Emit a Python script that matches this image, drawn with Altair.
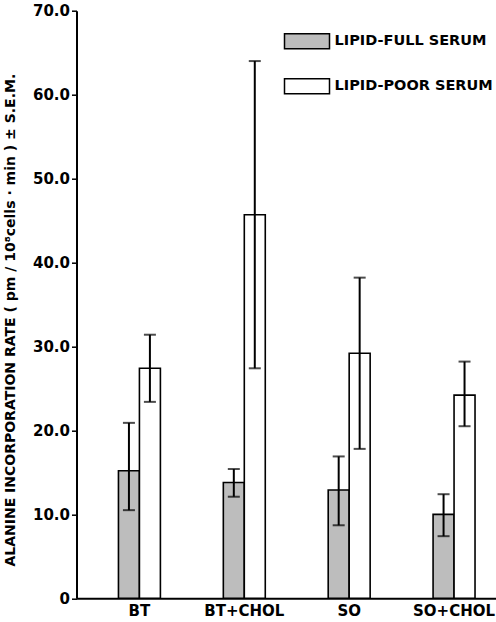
import altair as alt
import pandas as pd

categories = ["BT", "BT+CHOL", "SO", "SO+CHOL"]
series = ["LIPID-FULL SERUM", "LIPID-POOR SERUM"]
full_mean = [15.2, 13.8, 12.9, 10.0]
full_low = [10.5, 12.1, 8.7, 7.4]
full_high = [20.9, 15.4, 16.9, 12.4]
poor_mean = [27.4, 45.7, 29.2, 24.2]
poor_low = [23.4, 27.4, 17.8, 20.5]
poor_high = [31.4, 64.0, 38.2, 28.2]

rows = []
for i, c in enumerate(categories):
    rows.append({"cat": c, "serum": series[0], "rate": full_mean[i], "lo": full_low[i], "hi": full_high[i]})
    rows.append({"cat": c, "serum": series[1], "rate": poor_mean[i], "lo": poor_low[i], "hi": poor_high[i]})
df = pd.DataFrame(rows)

FONT = "DejaVu Sans"

x = alt.X("cat:N", sort=categories, title=None,
          scale=alt.Scale(paddingInner=0.5, paddingOuter=0.25, align=0.7),
          axis=alt.Axis(labelAngle=0, ticks=False, labelPadding=5, labelFontSize=15,
                        labelFont=FONT, labelFontWeight="bold", labelColor="black",
                        domainColor="black", domainWidth=2))
xo = alt.XOffset("serum:N", sort=series,
                 scale=alt.Scale(paddingInner=0, paddingOuter=0.25))

base = alt.Chart(df)

bars = base.mark_bar(stroke="black", strokeWidth=1.6).encode(
    x=x,
    xOffset=xo,
    y=alt.Y("rate:Q", scale=alt.Scale(domain=[0, 70], nice=False),
            title="ALANINE INCORPORATION RATE ( pm / 10⁸cells · min ) ± S.E.M.",
            axis=alt.Axis(values=[0, 10, 20, 30, 40, 50, 60, 70], grid=False,
                          labelExpr="datum.value == 0 ? '0' : format(datum.value, '.1f')",
                          labelFont=FONT, labelFontWeight="bold", labelFontSize=15,
                          labelColor="black", labelPadding=2,
                          tickSize=5, tickColor="black", tickWidth=1.5,
                          domainColor="black", domainWidth=2,
                          titleFont=FONT, titleFontWeight="bold", titleFontSize=14,
                          titleColor="black", titleAngle=-90, titleAlign="center",
                          titleBaseline="middle", titleX=-66, titleY=309)),
    fill=alt.Fill("serum:N", sort=series,
                  scale=alt.Scale(domain=series, range=["#bdbdbd", "white"]),
                  legend=alt.Legend(title=None, orient="none", legendX=207, legendY=7,
                                    symbolType="M-1,-0.333H1V0.333H-1Z", symbolSize=2025,
                                    symbolStrokeColor="black", symbolStrokeWidth=1.5,
                                    labelFont=FONT, labelFontWeight="bold", labelFontSize=14.5,
                                    labelColor="black", labelOffset=4, rowPadding=11,
                                    labelLimit=400, padding=0)),
)

rules = base.mark_rule(color="black", strokeWidth=2).encode(
    x=x, xOffset=xo, y="lo:Q", y2="hi:Q")
caps_hi = base.mark_tick(color="black", thickness=2, size=12).encode(
    x=x, xOffset=xo, y="hi:Q")
caps_lo = base.mark_tick(color="black", thickness=2, size=12).encode(
    x=x, xOffset=xo, y="lo:Q")

chart = (bars + rules + caps_hi + caps_lo).properties(
    width=419.5, height=587.6,
    autosize=alt.AutoSizeParams(type="none"),
    padding={"left": 76.5, "top": 10.7, "right": 0, "bottom": 23.7},
    background="white",
).configure_view(stroke=None)

chart.save("out.html", embed_options={"renderer": "svg", "actions": False})
